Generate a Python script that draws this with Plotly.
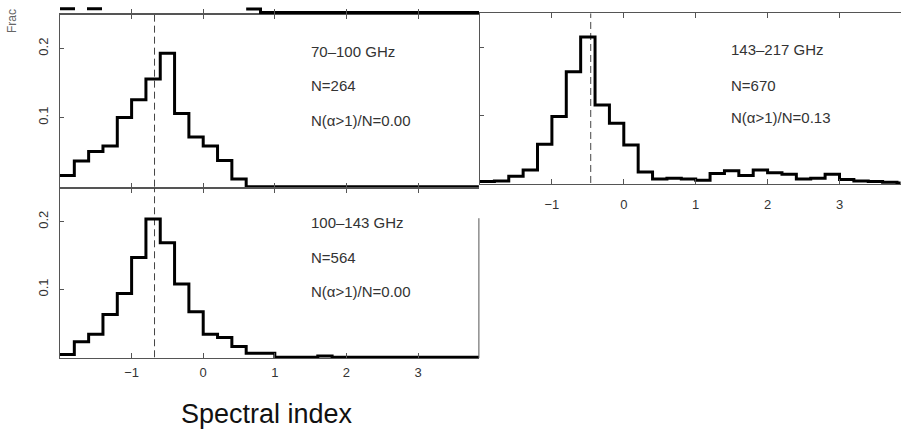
import plotly.graph_objects as go

# ---------------- data ----------------
bin_edges = [-2.0, -1.8, -1.6, -1.4, -1.2, -1.0, -0.8, -0.6, -0.4, -0.2,
             0.0, 0.2, 0.4, 0.6, 0.8, 1.0, 1.2, 1.4, 1.6, 1.8,
             2.0, 2.2, 2.4, 2.6, 2.8, 3.0, 3.2, 3.4, 3.6, 3.8, 4.0]

frac_70_100 = [0.016, 0.037, 0.051, 0.059, 0.100, 0.126, 0.156, 0.193, 0.106, 0.072,
               0.059, 0.038, 0.011, 0.0, 0.0, 0.0, 0.0, 0.0, 0.0, 0.0,
               0.0, 0.0, 0.0, 0.0, 0.0, 0.0, 0.0, 0.0, 0.0, 0.0]
frac_100_143 = [0.004, 0.023, 0.034, 0.063, 0.094, 0.147, 0.204, 0.169, 0.108, 0.067,
                0.034, 0.029, 0.016, 0.006, 0.006, 0.0, 0.0, 0.0, 0.002, 0.0,
                0.0, 0.0, 0.0, 0.0, 0.0, 0.0, 0.0, 0.0, 0.0, 0.0]
frac_143_217 = [0.002, 0.003, 0.010, 0.019, 0.057, 0.098, 0.164, 0.215, 0.115, 0.088,
                0.056, 0.016, 0.006, 0.007, 0.006, 0.004, 0.014, 0.018, 0.011, 0.019,
                0.015, 0.013, 0.006, 0.007, 0.013, 0.005, 0.003, 0.002, 0.001, 0.0]

medians = {"A": -0.68, "B": -0.68, "C": -0.46}

# cropped panel above (only its lowest strip is visible)
top_solid_x = [0.6, 0.8, 4.0]
top_solid_y = [0.005, 0.0, 0.0]
top_dash_x = [-2.0, -1.4]
top_dash_y = [0.0055, 0.0055]

labels_A = ["70–100 GHz", "N=264", "N(α>1)/N=0.00"]
labels_B = ["100–143 GHz", "N=564", "N(α>1)/N=0.00"]
labels_C = ["143–217 GHz", "N=670", "N(α>1)/N=0.13"]

x_ticks = [-1, 0, 1, 2, 3]
y_ticks = [0.1, 0.2]
y_ticktext = ["0.1", "0.2"]
x_label = "Spectral index"
y_label = "Frac"

# ---------------- layout helpers ----------------
W, H = 903, 430
FONT = "Liberation Sans, Arial, Helvetica, sans-serif"
AXC = "#555555"


def xdom(a, b):
    return [a / W, b / W]


def ydom(top, bot):
    return [1 - bot / H, 1 - top / H]


XR = [-2.0, 3.85]
YR = [-0.0015, 0.25]

fig = go.Figure()


def add_hist(xa, ya, vals):
    fig.add_trace(go.Scatter(
        x=bin_edges, y=vals + [vals[-1]], mode="lines",
        line=dict(shape="hv", color="black", width=3),
        xaxis=xa, yaxis=ya, showlegend=False, hoverinfo="skip"))


def add_median(xa, ya, m):
    fig.add_trace(go.Scatter(
        x=[m, m], y=[0, 0.25], mode="lines",
        line=dict(color="#444444", width=1, dash="7px,4px"),
        xaxis=xa, yaxis=ya, showlegend=False, hoverinfo="skip"))


add_median("x", "y", medians["A"])
add_hist("x", "y", frac_70_100)
add_median("x2", "y2", medians["B"])
add_hist("x2", "y2", frac_100_143)
add_median("x3", "y3", medians["C"])
add_hist("x3", "y3", frac_143_217)

fig.add_trace(go.Scatter(x=top_solid_x, y=top_solid_y, mode="lines",
                         line=dict(shape="hv", color="black", width=3),
                         xaxis="x4", yaxis="y4", showlegend=False, hoverinfo="skip"))
fig.add_trace(go.Scatter(x=top_dash_x, y=top_dash_y, mode="lines",
                         line=dict(color="black", width=3, dash="15px,12px"),
                         xaxis="x4", yaxis="y4", showlegend=False, hoverinfo="skip"))

common = dict(showgrid=False, zeroline=False, showline=True, linecolor=AXC,
              linewidth=1, ticks="inside", tickcolor=AXC, tickwidth=1,
              tickfont=dict(family=FONT, size=13, color="#333333"))

xA = xdom(60, 478.9)
xC = xdom(480, 900.6)
yA = ydom(14, 187.7)
yB = ydom(187.7, 358.3)
yC = ydom(13.3, 184)
yS = ydom(0, 14)

fig.update_layout(
    width=W, height=H, margin=dict(l=0, r=0, t=0, b=0),
    paper_bgcolor="white", plot_bgcolor="white", showlegend=False,
    xaxis=dict(**common, domain=xA, anchor="y", range=XR, tickvals=x_ticks,
               showticklabels=False, ticklen=5, mirror="ticks"),
    yaxis=dict(**common, domain=yA, anchor="x", range=YR, tickvals=y_ticks,
               ticktext=y_ticktext, tickangle=-90, ticklen=4, ticklabelstandoff=6),
    xaxis2=dict(**common, domain=xA, anchor="y2", range=XR, tickvals=x_ticks,
                ticklen=5, mirror="ticks", ticklabelstandoff=2),
    yaxis2=dict(**common, domain=yB, anchor="x2", range=YR, tickvals=y_ticks,
                ticktext=y_ticktext, tickangle=-90, ticklen=4, ticklabelstandoff=6),
    xaxis3=dict(**common, domain=xC, anchor="y3", range=XR, tickvals=x_ticks,
                ticklen=5, mirror="ticks", ticklabelstandoff=8),
    yaxis3=dict(**common, domain=yC, anchor="x3", range=YR, tickvals=y_ticks,
                showticklabels=False, ticklen=4),
    xaxis4=dict(**common, domain=xA, anchor="y4", range=XR, tickvals=x_ticks,
                showticklabels=False, ticklen=5),
    yaxis4=dict(domain=yS, anchor="x4", range=[-0.0022, 0.018], visible=False),
    yaxis5=dict(overlaying="y2", side="right", anchor="x2", range=YR,
                tickvals=y_ticks, ticks="outside", ticklen=4, tickcolor=AXC,
                showticklabels=False, showline=False, showgrid=False, zeroline=False),
)

fig.add_shape(type="line", xref="x2 domain", x0=1, x1=1, yref="y2", y0=-0.0015, y1=0.205,
              line=dict(color=AXC, width=1))

ann = []


def add_labels(texts, xpx, ypxs):
    for t, yp in zip(texts, ypxs):
        ann.append(dict(text=t, x=xpx / W, y=1 - yp / H, xref="paper", yref="paper",
                        xanchor="left", yanchor="middle", showarrow=False,
                        font=dict(family=FONT, size=15, color="#333333")))


add_labels(labels_A, 309, [51, 86, 120])
add_labels(labels_B, 309, [222.5, 257.5, 291])
add_labels(labels_C, 729, [49, 85, 117])

ann.append(dict(text=x_label, x=267 / W, y=0, xref="paper", yref="paper",
                xanchor="center", yanchor="bottom", showarrow=False, borderpad=0,
                font=dict(family=FONT, size=27, color="#111111")))
ann.append(dict(text=y_label, x=12 / W, y=1 - 21 / H, xref="paper", yref="paper",
                xanchor="center", yanchor="middle", showarrow=False, textangle=-90,
                font=dict(family=FONT, size=12, color="#666666")))

fig.update_layout(annotations=ann)

fig.write_html("out.html")
